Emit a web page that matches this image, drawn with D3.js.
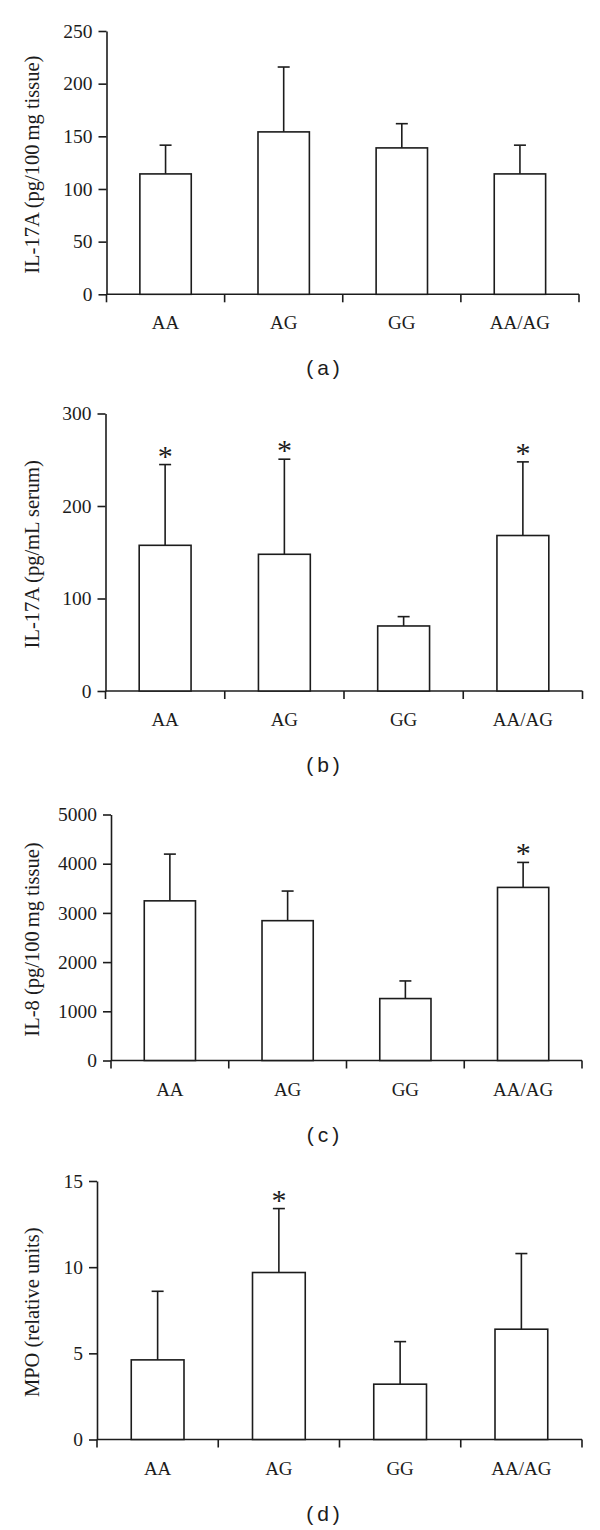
<!DOCTYPE html>
<html>
<head>
<meta charset="utf-8">
<script src="https://cdn.jsdelivr.net/npm/d3@7"></script>
<style>
  html, body { margin: 0; padding: 0; background: #fff; }
  svg { display: block; }
</style>
</head>
<body>
<script>
// ---------------- data ----------------
const categories = ["AA", "AG", "GG", "AA/AG"];

const il17TissueMean = [114.3, 154.2, 139.0, 114.3];
const il17TissueSD   = [27.3, 61.6, 23.0, 27.3];
const il17TissueSig  = [false, false, false, false];
const il17TissueTicks = [0, 50, 100, 150, 200, 250];

const il17SerumMean = [157.5, 147.8, 70.3, 168.1];
const il17SerumSD   = [87.3, 102.8, 10.1, 79.6];
const il17SerumSig  = [true, true, false, true];
const il17SerumTicks = [0, 100, 200, 300];

const il8Mean = [3245, 2842, 1259, 3518];
const il8SD   = [950, 602, 358, 508];
const il8Sig  = [false, false, false, true];
const il8Ticks = [0, 1000, 2000, 3000, 4000, 5000];

const mpoMean = [4.62, 9.69, 3.21, 6.40];
const mpoSD   = [3.98, 3.71, 2.47, 4.39];
const mpoSig  = [false, true, false, false];
const mpoTicks = [0, 5, 10, 15];

const yTitles = ["IL-17A (pg/100\u2009mg tissue)", "IL-17A (pg/mL serum)", "IL-8 (pg/100\u2009mg tissue)", "MPO (relative units)"];
const panelLabels = ["(a)", "(b)", "(c)", "(d)"];

// ---------------- layout ----------------
const W = 600, H = 1530;
const panels = [
  { mean: il17TissueMean, sd: il17TissueSD, sig: il17TissueSig, ticks: il17TissueTicks, x0: 106.5, x1: 579,   yTop: 31,    yBot: 294.3 },
  { mean: il17SerumMean,  sd: il17SerumSD,  sig: il17SerumSig,  ticks: il17SerumTicks,  x0: 105.5, x1: 582.5, yTop: 413.5, yBot: 691 },
  { mean: il8Mean,        sd: il8SD,        sig: il8Sig,        ticks: il8Ticks,        x0: 111,   x1: 582,   yTop: 814.5, yBot: 1060.5 },
  { mean: mpoMean,        sd: mpoSD,        sig: mpoSig,        ticks: mpoTicks,        x0: 97,    x1: 582,   yTop: 1181,  yBot: 1439.5 }
];

const ink = "#1c1c1c";
const serif = "'Liberation Serif', 'Times New Roman', serif";
const sans = "'Liberation Sans', Arial, sans-serif";

const svg = d3.select("body").append("svg")
  .attr("width", W).attr("height", H)
  .attr("viewBox", `0 0 ${W} ${H}`);
svg.append("rect").attr("width", W).attr("height", H).attr("fill", "#fff");

panels.forEach((p, i) => {
  const g = svg.append("g");
  const ticks = p.ticks;
  const y = d3.scaleLinear().domain([0, d3.max(ticks)]).range([p.yBot, p.yTop]);
  const xb = d3.scaleBand().domain(categories).range([p.x0, p.x1]).padding(0);
  const barPad = 0.565;
  const xBar = d3.scaleBand().domain(categories).range([p.x0, p.x1])
    .paddingInner(barPad).paddingOuter(barPad / 2);

  // y axis
  const yAxis = d3.axisLeft(y).tickValues(ticks).tickSize(8).tickSizeOuter(0).tickPadding(6)
    .tickFormat(d3.format("d"));
  const ya = g.append("g").attr("transform", `translate(${p.x0},0)`).call(yAxis);
  ya.select(".domain").attr("stroke", ink).attr("stroke-width", 1.6);
  ya.selectAll(".tick line").attr("stroke", ink).attr("stroke-width", 1.6);
  ya.selectAll(".tick text").attr("fill", ink)
    .style("font-family", serif).style("font-size", "19.5px");

  // x axis line
  g.append("line")
    .attr("x1", p.x0).attr("x2", p.x1)
    .attr("y1", y(0)).attr("y2", y(0))
    .attr("stroke", ink).attr("stroke-width", 1.6);
  // boundary ticks
  const bounds = categories.map(c => xb(c)).concat([xb.range()[1]]);
  g.selectAll(".xt").data(bounds).enter().append("line")
    .attr("x1", d => d).attr("x2", d => d)
    .attr("y1", y(0)).attr("y2", y(0) + 8)
    .attr("stroke", ink).attr("stroke-width", 1.6);
  // category labels
  g.selectAll(".xl").data(categories).enter().append("text")
    .attr("x", d => xb(d) + xb.bandwidth() / 2)
    .attr("y", y(0) + 35)
    .attr("text-anchor", "middle")
    .attr("fill", ink)
    .style("font-family", serif).style("font-size", "19px")
    .text(d => d);

  const rows = categories.map((c, k) => ({ c, m: p.mean[k], s: p.sd[k], sig: p.sig[k] }));

  // error bars
  g.selectAll(".eb").data(rows).enter().append("line")
    .attr("x1", d => xBar(d.c) + xBar.bandwidth() / 2)
    .attr("x2", d => xBar(d.c) + xBar.bandwidth() / 2)
    .attr("y1", d => y(d.m)).attr("y2", d => y(d.m + d.s))
    .attr("stroke", ink).attr("stroke-width", 1.6);
  g.selectAll(".cap").data(rows).enter().append("line")
    .attr("x1", d => xBar(d.c) + xBar.bandwidth() / 2 - 6)
    .attr("x2", d => xBar(d.c) + xBar.bandwidth() / 2 + 6)
    .attr("y1", d => y(d.m + d.s)).attr("y2", d => y(d.m + d.s))
    .attr("stroke", ink).attr("stroke-width", 1.6);

  // bars
  g.selectAll(".bar").data(rows).enter().append("rect")
    .attr("x", d => xBar(d.c))
    .attr("width", xBar.bandwidth())
    .attr("y", d => y(d.m))
    .attr("height", d => y(0) - y(d.m))
    .attr("fill", "#fff")
    .attr("stroke", ink).attr("stroke-width", 1.6);

  // significance asterisks
  g.selectAll(".ast").data(rows.filter(d => d.sig)).enter().append("text")
    .attr("x", d => xBar(d.c) + xBar.bandwidth() / 2)
    .attr("y", d => y(d.m + d.s) + 1)
    .attr("text-anchor", "middle")
    .attr("fill", ink)
    .style("font-family", serif).style("font-size", "30px")
    .style("font-weight", "300")
    .text("*");

  // y title
  const midY = (p.yTop + p.yBot) / 2 + 2;
  g.append("text")
    .attr("transform", `translate(39,${midY}) rotate(-90)`)
    .attr("text-anchor", "middle")
    .attr("fill", ink)
    .style("font-family", serif).style("font-size", "20.5px")
    .text(yTitles[i]);

  // panel label
  g.append("text")
    .attr("x", 325)
    .attr("y", y(0) + 81)
    .attr("text-anchor", "middle")
    .attr("fill", ink)
    .style("font-family", sans).style("font-size", "21px")
    .style("letter-spacing", "4px")
    .text(panelLabels[i]);
});
</script>
</body>
</html>
